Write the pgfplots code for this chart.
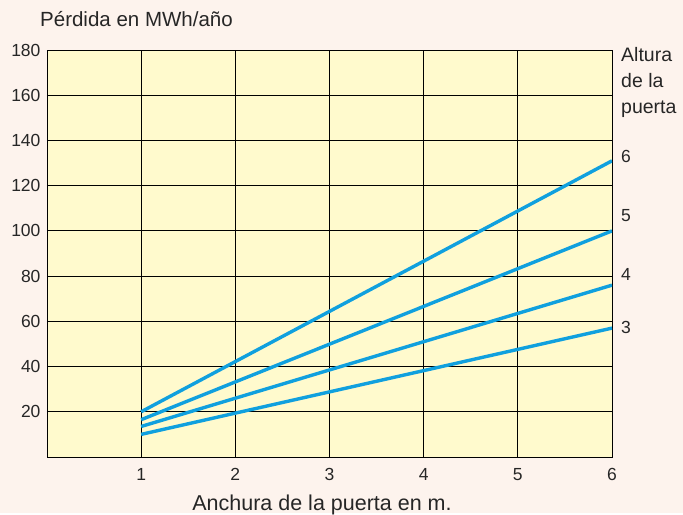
\documentclass[border=0pt]{standalone}
\usepackage{fontspec}
\setmainfont{Liberation Sans}
\usepackage{pgfplots}
\pgfplotsset{compat=1.18}
\definecolor{bgc}{RGB}{253,243,237}
\definecolor{plotc}{RGB}{255,250,205}
\definecolor{linec}{RGB}{16,160,222}
\begin{document}
\begin{tikzpicture}[x=1pt,y=1pt]
\fill[bgc] (-47,-56) rectangle (636,457);
\begin{axis}[
  at={(0,0)}, anchor=south west,
  width=565pt, height=407pt, scale only axis,
  xmin=0, xmax=6, ymin=0, ymax=180,
  xtick={1,2,3,4,5,6}, ytick={20,40,...,180},
  grid=major,
  major grid style={black, line width=0.8pt},
  axis line style={black, line width=0.8pt},
  major tick length=0pt,
  axis background/.style={fill=plotc},
  tick label style={font=\fontsize{17.5}{20}\selectfont, text=black!85},
  /pgf/number format/assume math mode=true,
  xticklabel style={yshift=-8pt},
  yticklabel style={xshift=-3pt},
]
\addplot[linec, line width=3.4pt] coordinates {(1,20) (6,131)};
\addplot[linec, line width=3.4pt] coordinates {(1,16.5) (6,100)};
\addplot[linec, line width=3.4pt] coordinates {(1,13.5) (6,76)};
\addplot[linec, line width=3.4pt] coordinates {(1,10) (6,57)};
\end{axis}
\begin{scope}[every node/.style={text=black!85, inner sep=0pt}]
\node[anchor=base west, font=\fontsize{20.5}{24}\selectfont] at (-7,430) {Pérdida en MWh/año};
\node[anchor=base, font=\fontsize{21.5}{24}\selectfont] at (275,-53) {Anchura de la puerta en m.};
\node[anchor=base west, font=\fontsize{19.5}{23}\selectfont] at (574,395) {Altura};
\node[anchor=base west, font=\fontsize{19.5}{23}\selectfont] at (574,369) {de la};
\node[anchor=base west, font=\fontsize{19.5}{23}\selectfont] at (574,343) {puerta};
\node[anchor=base west, font=\fontsize{17.5}{20}\selectfont] at (574,294.5) {6};
\node[anchor=base west, font=\fontsize{17.5}{20}\selectfont] at (574,235.5) {5};
\node[anchor=base west, font=\fontsize{17.5}{20}\selectfont] at (574,176.5) {4};
\node[anchor=base west, font=\fontsize{17.5}{20}\selectfont] at (574,123.5) {3};
\end{scope}
\end{tikzpicture}
\end{document}
